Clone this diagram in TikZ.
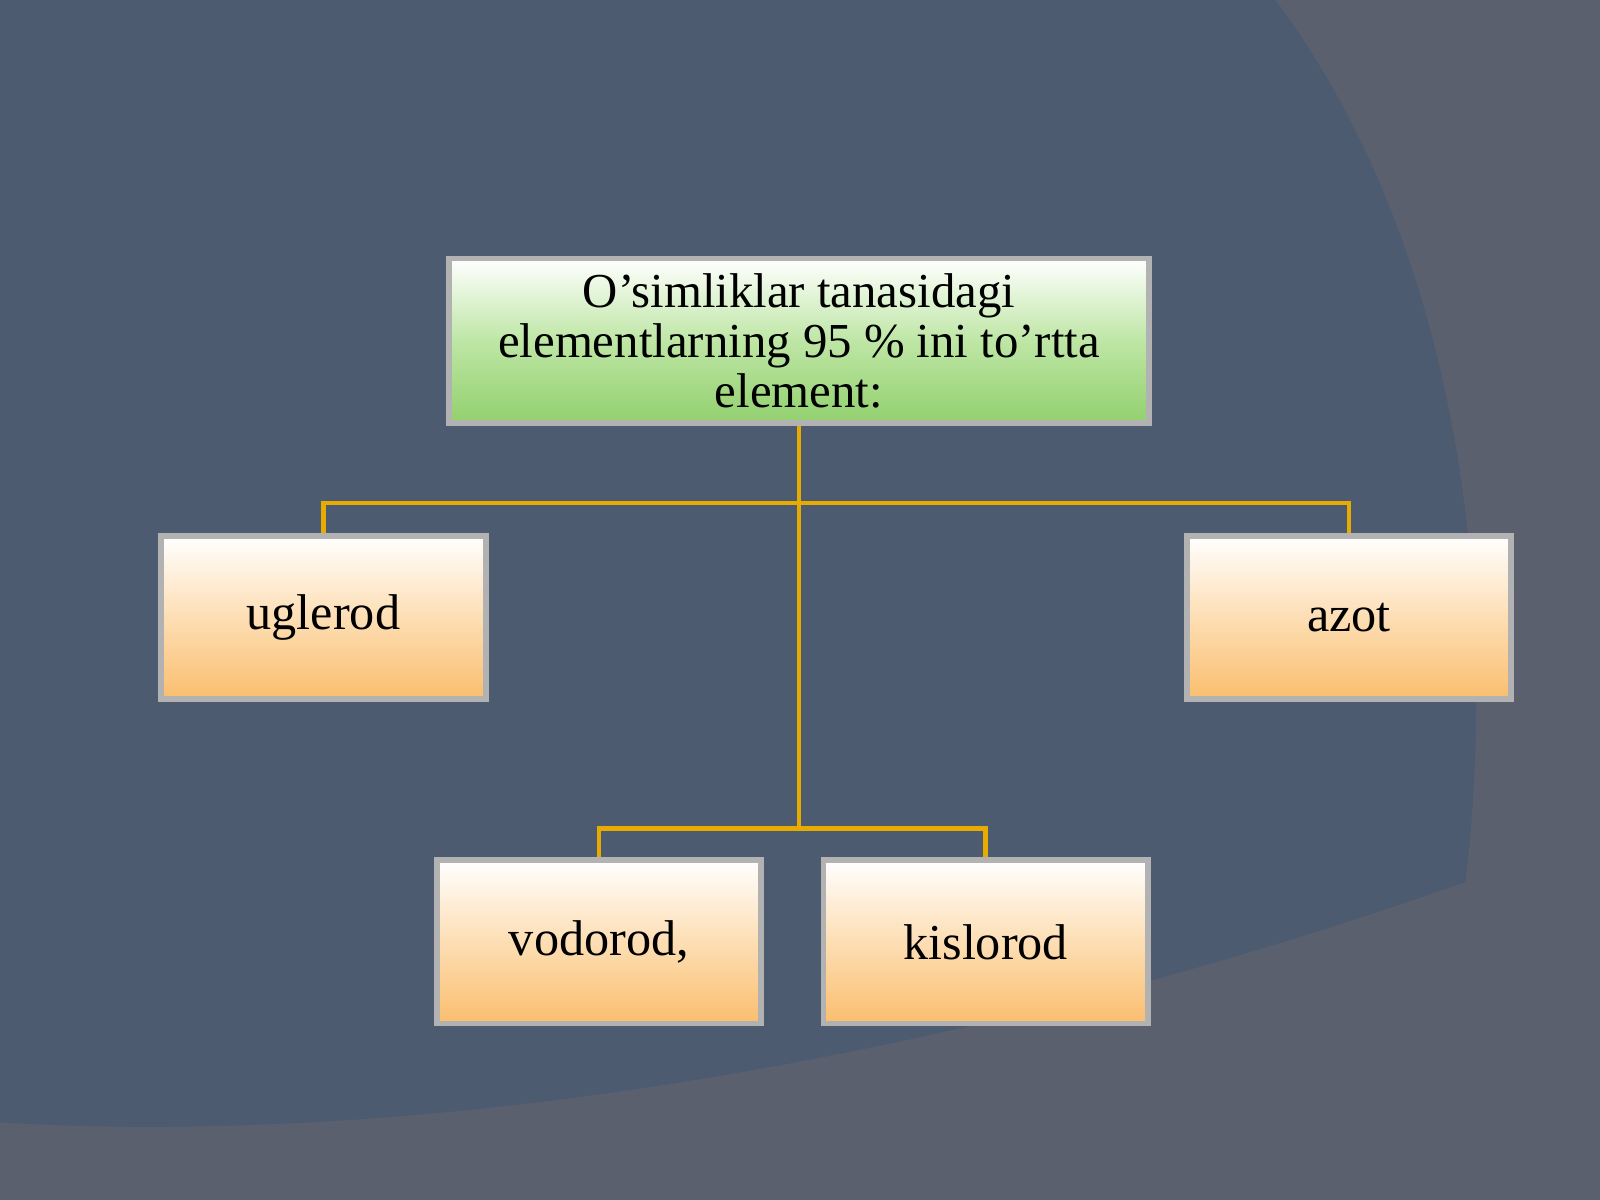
\documentclass[tikz,border=0pt]{standalone}
\usepackage{fontspec}
\setmainfont{Liberation Serif}
\definecolor{peach}{RGB}{250,190,110}
\definecolor{peachm}{RGB}{253,222,180}
\definecolor{gold}{RGB}{232,172,0}
\definecolor{bgside}{RGB}{90,96,110}
\begin{document}
\begin{tikzpicture}[x=0.01cm,y=-0.01cm,
 box/.style={draw=gray!60,line width=1.6pt,minimum width=3.18cm,minimum height=1.6cm,top color=white,bottom color=peach,middle color=peachm,font=\fontsize{14}{16}\selectfont,inner sep=0pt},
 con/.style={draw=gold,line width=1.3pt}]
\useasboundingbox (0,0) rectangle (1568,1176);
\fill[fill={rgb,255:red,77;green,91;blue,112}] (0,0) rectangle (1568,1176);
\fill[bgside] (1250,0) .. controls (1400,200) and (1470,500) .. (1440,830) -- (1400,1176) -- (1568,1176) -- (1568,0) -- cycle;
\fill[bgside] (0,1100) .. controls (500,1130) and (1100,1000) .. (1568,815) -- (1568,1176) -- (0,1176) -- cycle;
\node[draw=gray!60,line width=1.6pt,minimum width=6.85cm,minimum height=1.61cm,top color=white,bottom color={rgb,255:red,146;green,208;blue,110},middle color={rgb,255:red,190;green,230;blue,165},align=center,font=\fontsize{13.6}{14}\selectfont,inner sep=0pt] (top) at (783,334) {O’simliklar tanasidagi\\elementlarning 95 \% ini to’rtta\\element:};
\node[box] (u) at (317,605) {uglerod};
\node[box] (a) at (1322,605) {azot};
\node[box] (v) at (587,923) {vodorod,};
\node[box] (k) at (966,923) {kislorod};
\coordinate (j1) at (783,493);
\coordinate (j2) at (783,812);
\draw[con] (top.south) -- (j2);
\draw[con] (u.north) -- (u.north |- j1) -- (a.north |- j1) -- (a.north);
\draw[con] (v.north) -- (v.north |- j2) -- (k.north |- j2) -- (k.north);
\end{tikzpicture}
\end{document}
